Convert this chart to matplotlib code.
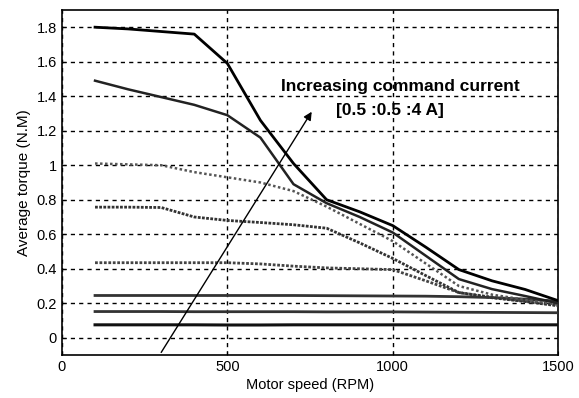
import matplotlib
matplotlib.use("Agg")
import matplotlib.pyplot as plt

plt.rcParams['font.family'] = ['Liberation Sans', 'DejaVu Sans']

speed = [100, 200, 300, 400, 500, 600, 700, 800, 900, 1000, 1100, 1200, 1300, 1400, 1500]

torque_05A = [0.075, 0.075, 0.075, 0.075, 0.074, 0.074, 0.075, 0.075, 0.075, 0.075, 0.075, 0.075, 0.075, 0.075, 0.075]
torque_10A = [0.152, 0.152, 0.152, 0.151, 0.151, 0.151, 0.151, 0.150, 0.150, 0.150, 0.149, 0.148, 0.147, 0.146, 0.145]
torque_15A = [0.245, 0.245, 0.245, 0.245, 0.245, 0.245, 0.245, 0.244, 0.243, 0.242, 0.241, 0.238, 0.233, 0.224, 0.212]
torque_20A = [0.435, 0.435, 0.435, 0.435, 0.435, 0.428, 0.415, 0.405, 0.400, 0.395, 0.330, 0.262, 0.235, 0.212, 0.190]
torque_25A = [0.757, 0.757, 0.755, 0.700, 0.680, 0.668, 0.655, 0.635, 0.550, 0.460, 0.360, 0.262, 0.232, 0.210, 0.185]
torque_30A = [1.010, 1.005, 1.000, 0.960, 0.930, 0.900, 0.850, 0.760, 0.660, 0.560, 0.430, 0.300, 0.250, 0.220, 0.192]
torque_35A = [1.490, 1.440, 1.395, 1.350, 1.290, 1.160, 0.890, 0.780, 0.700, 0.610, 0.475, 0.340, 0.282, 0.242, 0.200]
torque_40A = [1.800, 1.790, 1.775, 1.760, 1.590, 1.260, 1.010, 0.800, 0.730, 0.650, 0.525, 0.395, 0.330, 0.280, 0.215]

x_ticks = [0, 500, 1000, 1500]
y_ticks = [0, 0.2, 0.4, 0.6, 0.8, 1.0, 1.2, 1.4, 1.6, 1.8]
y_tick_labels = ['0', '0.2', '0.4', '0.6', '0.8', '1', '1.2', '1.4', '1.6', '1.8']

fig = plt.figure(figsize=(5.79, 3.98), dpi=100)
ax = fig.add_axes([0.107, 0.108, 0.857, 0.867])

curves = [
    (torque_05A, '-', 2.2, '#111111'),
    (torque_10A, '-', 2.0, '#333333'),
    (torque_15A, '-', 2.0, '#333333'),
    (torque_20A, (0, (1, 0.6)), 2.0, '#444444'),
    (torque_25A, (0, (1, 0.5)), 2.0, '#333333'),
    (torque_30A, (0, (1, 1)), 1.8, '#555555'),
    (torque_35A, '-', 1.8, '#222222'),
    (torque_40A, '-', 2.0, '#000000'),
]
for values, ls, lw, col in curves:
    ax.plot(speed, values, linestyle=ls, linewidth=lw, color=col, zorder=3)

ax.set_xlim(0, 1500)
ax.set_ylim(-0.1, 1.9)
ax.set_xticks(x_ticks)
ax.set_yticks(y_ticks)
ax.set_yticklabels(y_tick_labels)
ax.tick_params(direction='in', length=3, labelsize=10.5, colors='black')
ax.grid(True, color='black', linestyle=(0, (3, 3)), linewidth=1.0)
for s in ax.spines.values():
    s.set_linewidth(1.2)
    s.set_color('black')

ax.set_xlabel('Motor speed (RPM)', fontsize=10.5, labelpad=3)
ax.set_ylabel('Average torque (N.M)', fontsize=11, labelpad=4)

ax.annotate('', xy=(755, 1.31), xytext=(300, -0.085),
            arrowprops=dict(arrowstyle='-|>', color='black', lw=1.0,
                            mutation_scale=12, shrinkA=0, shrinkB=0), zorder=4)
ax.text(1022, 1.455, 'Increasing command current', ha='center', va='center',
        fontsize=12.5, fontweight='bold', zorder=5)
ax.text(992, 1.32, '[0.5 :0.5 :4 A]', ha='center', va='center',
        fontsize=12.5, fontweight='bold', zorder=5)

fig.savefig('out.png', dpi=100)
